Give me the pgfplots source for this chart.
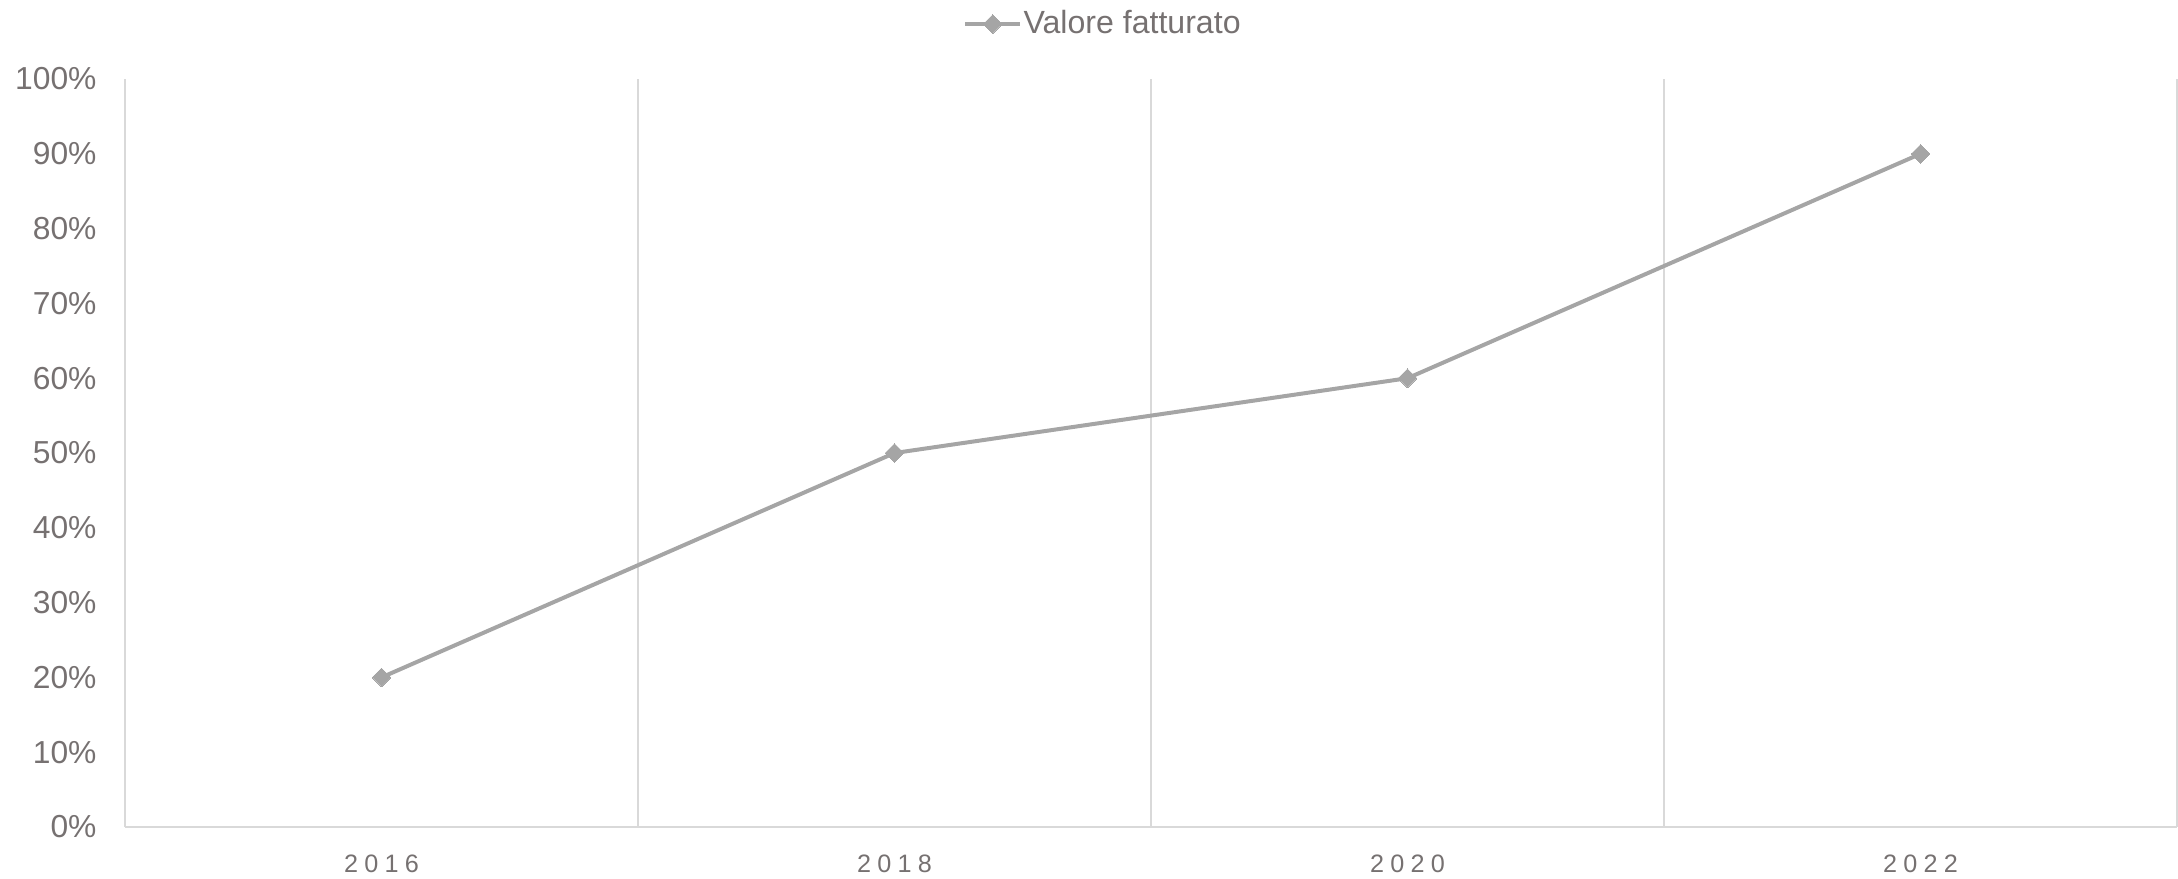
\documentclass[border=0pt]{standalone}
\usepackage{pgfplots}
\pgfplotsset{compat=1.18}
\usepackage{fontspec}
\setmainfont{Liberation Sans}
\definecolor{txt}{RGB}{118,113,113}
\definecolor{grd}{RGB}{217,217,217}
\definecolor{ln}{RGB}{165,165,165}
\newcommand{\lsp}{\hspace{2.1pt}}
\begin{document}
\begin{tikzpicture}
\begin{axis}[
  at={(0,0)}, anchor=south west,
  scale only axis,
  width=684pt, height=249.33pt,
  xmin=-0.5, xmax=3.5, ymin=0, ymax=100,
  axis x line*=bottom, axis y line*=left,
  axis line style={grd, line width=0.75pt, -},
  xtick={0,1,2,3},
  xticklabels={2\lsp0\lsp1\lsp6, 2\lsp0\lsp1\lsp8, 2\lsp0\lsp2\lsp0, 2\lsp0\lsp2\lsp2},
  minor xtick={0.5,1.5,2.5,3.5},
  xminorgrids=true,
  minor grid style={grd, line width=0.75pt},
  ytick={0,10,...,100},
  yticklabel={\pgfmathprintnumber{\tick}\%},
  major tick length=0pt, minor tick length=0pt,
  /pgf/number format/assume math mode=true,
  xticklabel style={font=\fontsize{8.4}{9}\selectfont, text=txt, anchor=base, inner sep=0pt, yshift=-15pt},
  yticklabel style={font=\fontsize{10.6}{12}\selectfont, text=txt, anchor=east, inner sep=0pt, xshift=-9.3pt},
  legend style={at={(0.4776,1.0735)}, anchor=center, draw=none, fill=none,
    font=\fontsize{10.7}{13}\selectfont, text=txt, legend columns=-1,
    inner sep=0pt, column sep=0pt},
  legend cell align=left,
  legend image code/.code={\draw[mark repeat=2,mark phase=2,#1] plot coordinates {(0cm,0cm)(0.32cm,0cm)(0.64cm,0cm)};},
  clip=false,
]
\addplot[ln, line width=1.33pt, mark=square*, mark size=2.2pt, mark options={fill=ln, draw=ln, line width=0pt, rotate=45}]
  coordinates {(0,20) (1,50) (2,60) (3,90)};
\addlegendentry{\hspace{-1.5pt}Valore fatturato}
\end{axis}
\pgfresetboundingbox
\path (-41.67pt,-17pt) rectangle (684.33pt,275.67pt);
\end{tikzpicture}
\end{document}
